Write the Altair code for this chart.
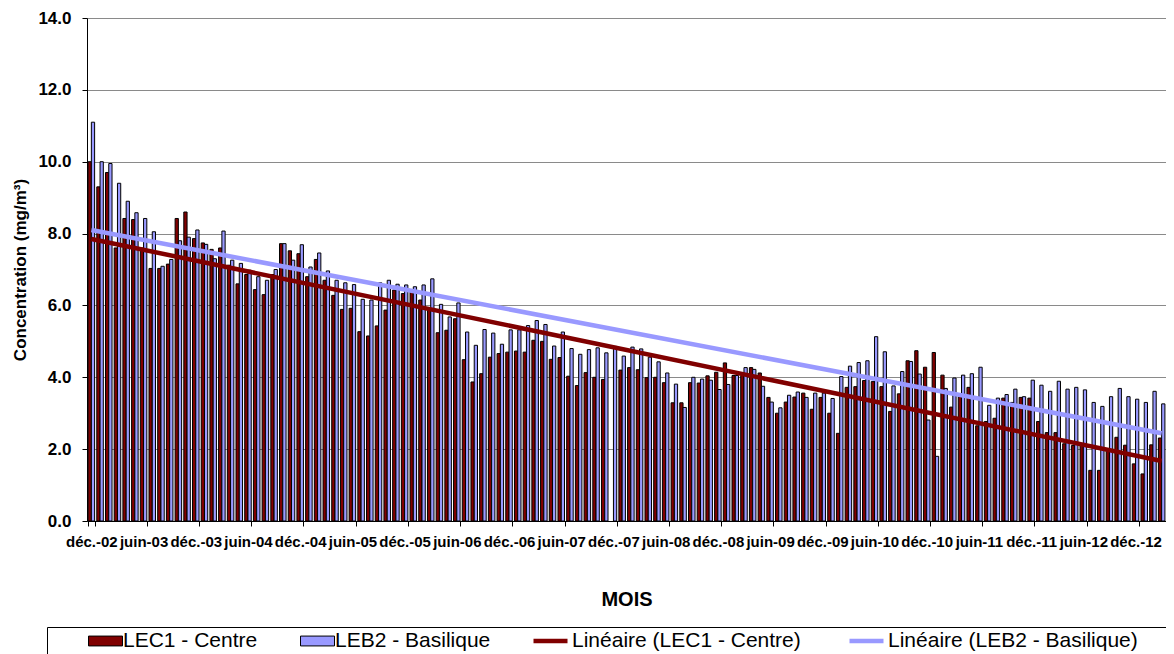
import altair as alt
import pandas as pd

# ---------------- data ----------------
MONTH_ABBR = ["janv.", "févr.", "mars", "avr.", "mai", "juin",
              "juil.", "août", "sept.", "oct.", "nov.", "déc."]

# monthly categories: déc.-02 ... mars-13 (124 months)
months = []
_y, _m = 2002, 11
for _i in range(124):
    months.append(f"{MONTH_ABBR[_m]}-{_y % 100:02d}")
    _m += 1
    if _m == 12:
        _m, _y = 0, _y + 1

lec1 = [
    10.0, 9.3, 9.7, 7.6, 8.42, 8.39, 7.6, 7.03, 7.03, 7.15,
    8.42, 8.6, 7.86, 7.74, 7.56, 7.6, 7.12, 6.6, 6.86, 6.44,
    6.3, 6.86, 7.72, 7.52, 7.44, 6.8, 7.28, 6.7, 6.28, 5.89,
    5.92, 5.27, 5.15, 5.43, 5.87, 6.43, 6.33, 6.43, 6.15, 5.87,
    5.24, 5.31, 5.63, 4.49, 3.87, 4.1, 4.56, 4.66, 4.7, 4.73,
    4.7, 5.03, 5.0, 4.5, 4.55, 4.03, 3.77, 4.13, 4.0, 3.94,
    None, 4.2, 4.27, 4.21, 3.99, 4.0, 3.85, 3.29, 3.29, 3.85,
    3.84, 4.04, 4.14, 4.4, 4.05, 4.05, 4.27, 4.12, 3.44, 3.0,
    3.31, 3.45, 3.56, 3.11, 3.44, 3.0, 2.44, 3.72, 3.74, 3.91,
    3.88, 3.74, 3.05, 3.54, 4.46, 4.74, 4.28, 4.69, 4.06, 3.17,
    3.46, 3.72, 2.65, 2.77, 2.86, 3.42, 3.3, 3.44, 3.42, 2.77,
    2.46, 2.46, 2.15, 2.1, 2.15, 1.41, 1.41, 1.98, 2.33, 2.11,
    1.59, 1.31, 2.12, 2.31,
]

leb2 = [
    11.1, 10.0, 9.95, 9.4, 8.9, 8.58, 8.42, 8.05, 7.09, 7.28,
    7.8, 7.9, 8.1, 7.7, 7.3, 8.07, 7.26, 7.17, 6.98, 6.8,
    6.7, 7.0, 7.72, 7.26, 7.69, 7.07, 7.46, 6.96, 6.7, 6.63,
    6.58, 6.17, 6.15, 6.63, 6.7, 6.59, 6.57, 6.52, 6.57, 6.74,
    6.03, 5.68, 6.07, 5.26, 4.89, 5.33, 5.23, 4.92, 5.32, 5.32,
    5.44, 5.58, 5.47, 4.87, 5.26, 4.8, 4.64, 4.77, 4.82, 4.68,
    4.86, 4.59, 4.84, 4.79, 4.56, 4.43, 4.12, 3.81, 3.16, 4.0,
    3.95, 3.92, 3.66, 3.8, 4.05, 4.27, 4.22, 3.75, 3.31, 3.15,
    3.5, 3.59, 3.44, 3.56, 3.56, 3.41, 4.02, 4.31, 4.41, 4.46,
    5.13, 4.71, 3.76, 4.16, 4.44, 4.09, 2.81, 1.8, 3.69, 3.98,
    4.06, 4.1, 4.28, 3.22, 3.42, 3.52, 3.67, 3.46, 3.92, 3.78,
    3.61, 3.89, 3.67, 3.72, 3.65, 3.3, 3.19, 3.46, 3.69, 3.46,
    3.39, 3.3, 3.61, 3.26,
]

# linear trend lines: values read at the first and the last month
trend_months = [months[0], months[-1]]
trend_lec1 = [7.85, 1.67]
trend_leb2 = [8.10, 2.44]

SERIES = ["LEC1 - Centre", "LEB2 - Basilique"]
TRENDS = ["Linéaire (LEC1 - Centre)", "Linéaire (LEB2 - Basilique)"]
SERIES_COLORS = ["#800000", "#9999FF"]
TREND_COLORS = ["#800000", "#9999FF"]
X_TICK_LABELS = months[::6]
Y_TICKS = [0, 2, 4, 6, 8, 10, 12, 14]

# invisible extra legend entry that only stretches the legend frame past the
# right edge of the picture (as in the reference, where the frame is cut off)
FRAME_FILLER = "\u00a0"

# ---------------- tables ----------------
bar_df = pd.DataFrame({
    "mois": months * 2,
    "serie": [SERIES[0]] * len(months) + [SERIES[1]] * len(months),
    "valeur": lec1 + leb2,
})
trend_df = pd.DataFrame({
    "mois": trend_months * 2,
    "tendance": [TRENDS[0]] * 2 + [TRENDS[1]] * 2,
    "valeur": trend_lec1 + trend_leb2,
})

FONT = "Liberation Sans"
RECT = "M-1,-0.29H1V0.29H-1Z"
NBSP = "\u00a0"

x_enc = alt.X(
    "mois:N",
    sort=months,
    scale=alt.Scale(domain=months, paddingInner=0.25, paddingOuter=0.125),
    axis=alt.Axis(
        values=X_TICK_LABELS, labelAngle=0, labelOverlap=False,
        labelFont=FONT, labelFontSize=15, labelFontWeight="bold", labelColor="black",
        labelPadding=8, tickSize=5, tickColor="black", tickBand="extent",
        domainColor="black", grid=False,
        title="MOIS", titleFont=FONT, titleFontSize=20, titleFontWeight="bold",
        titleColor="black", titlePadding=40,
    ),
)

y_enc = alt.Y(
    "valeur:Q",
    scale=alt.Scale(domain=[0, 14], nice=False),
    axis=alt.Axis(
        values=Y_TICKS, format=".1f",
        labelFont=FONT, labelFontSize=17, labelFontWeight="bold", labelColor="black",
        labelPadding=11, tickSize=5, tickColor="black", domainColor="black",
        grid=True, gridColor="#8a8a8a", gridWidth=1,
        title="Concentration (mg/m³)", titleFont=FONT, titleFontSize=17,
        titleFontWeight="bold", titleColor="black", titlePadding=8,
    ),
)

legend_bars = alt.Legend(
    orient="none", legendX=1, legendY=609, direction="horizontal",
    title=None,
    labelFont=FONT, labelFontSize=21, labelColor="black", labelOffset=0,
    labelLimit=800, clipHeight=28,
    symbolType=RECT, symbolSize=1156, symbolStrokeColor="black",
    symbolStrokeWidth=1, symbolOpacity=1,
    columnPadding=42, padding=0,
)

legend_trend = alt.Legend(
    orient="none", legendX=-40, legendY=609, direction="horizontal",
    title=NBSP, titleOrient="left", titleFontSize=21, titlePadding=484,
    labelFont=FONT, labelFontSize=21, labelColor="black", labelOffset=2,
    labelLimit=800, clipHeight=28,
    symbolType="stroke", symbolSize=1156, symbolStrokeWidth=4.5, symbolOpacity=1,
    columnPadding=46, padding=0, strokeColor="black",
)

bars = alt.Chart(bar_df).mark_bar(stroke="black", strokeWidth=1).encode(
    x=x_enc,
    xOffset=alt.XOffset("serie:N", sort=SERIES,
                        scale=alt.Scale(domain=SERIES, paddingInner=0, paddingOuter=0)),
    y=y_enc,
    fill=alt.Fill("serie:N", scale=alt.Scale(domain=SERIES, range=SERIES_COLORS),
                  legend=legend_bars),
)

trend = alt.Chart(trend_df).mark_line(strokeWidth=4.5).encode(
    x=alt.X("mois:N", sort=months),
    y=alt.Y("valeur:Q"),
    stroke=alt.Stroke(
        "tendance:N",
        scale=alt.Scale(domain=TRENDS + [FRAME_FILLER],
                        range=TREND_COLORS + ["transparent"]),
        legend=legend_trend,
    ),
)

chart = alt.layer(bars, trend).properties(
    width=1079,
    height=503,
    autosize=alt.AutoSizeParams(type="none"),
    padding={"left": 79, "top": 10, "right": 0, "bottom": 133},
    background="white",
).configure_view(
    stroke="#8a8a8a", strokeWidth=1,
).configure(
    font=FONT,
)

chart.save("out.html", embed_options={"renderer": "svg", "actions": False})
